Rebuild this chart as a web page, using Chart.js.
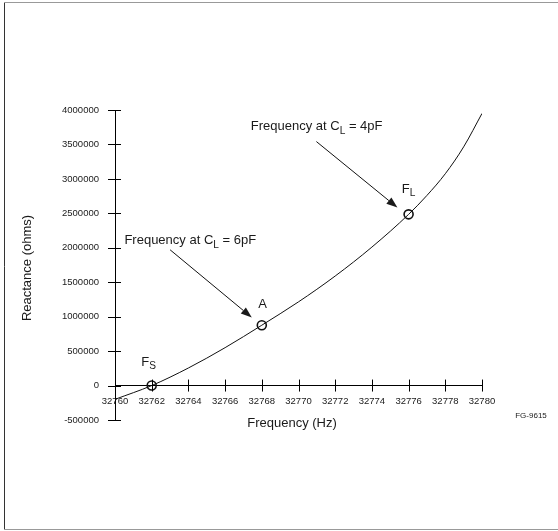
<!DOCTYPE html>
<html>
<head>
<meta charset="utf-8">
<script src="https://cdn.jsdelivr.net/npm/chart.js@4/dist/chart.umd.min.js"></script>
<style>
  body { margin: 0; background: #fff; }
  #wrap { width: 558px; height: 531px; }
</style>
</head>
<body>
<div id="wrap"><canvas id="grafica" width="558" height="531"></canvas></div>
<script>
// Curva de reactancia (Hz, ohms)
const frecuencias = [32760, 32762, 32764, 32766, 32768, 32770, 32772, 32774, 32776, 32777, 32778, 32779, 32780];
const reactancias = [-200000, 0, 255000, 550000, 876000, 1215000, 1590000, 2010000, 2485000, 2760000, 3075000, 3465000, 3950000];

// Puntos marcados
const puntosX = [32762, 32768, 32776];
const puntosY = [0, 876000, 2485000];
const puntosNombre = ["F", "A", "F"];
const puntosSub = ["S", "", "L"];

// Ejes
const xMin = 32760, xMax = 32780, xPaso = 2;
const yMin = -500000, yMax = 4000000, yPaso = 500000;

const tituloX = "Frequency (Hz)";
const tituloY = "Reactance (ohms)";
const notas = [
    { punto: 1, texto: "Frequency at C", sub: "L", resto: " = 6pF" },
    { punto: 2, texto: "Frequency at C", sub: "L", resto: " = 4pF" }
];
const codigoFigura = "FG-9615";

const FUENTE = "'Liberation Sans', Arial, sans-serif";
const TINTA = "#1a1a1a";

// Texto con subindice
function textoSub(ctx, x, y, partes, size) {
    let cx = x;
    partes.forEach(([t, esSub]) => {
        if (!t) return;
        ctx.font = (esSub ? size * 0.78 : size) + "px " + FUENTE;
        ctx.fillText(t, cx, esSub ? y + size * 0.32 : y);
        cx += ctx.measureText(t).width;
    });
}

function flecha(ctx, x1, y1, x2, y2) {
    const ang = Math.atan2(y2 - y1, x2 - x1);
    const largo = 11, ancho = 4;
    ctx.beginPath();
    ctx.moveTo(x1, y1);
    ctx.lineTo(x2 - Math.cos(ang) * largo, y2 - Math.sin(ang) * largo);
    ctx.stroke();
    ctx.beginPath();
    ctx.moveTo(x2, y2);
    ctx.lineTo(x2 - Math.cos(ang) * largo + Math.sin(ang) * ancho, y2 - Math.sin(ang) * largo - Math.cos(ang) * ancho);
    ctx.lineTo(x2 - Math.cos(ang) * largo - Math.sin(ang) * ancho, y2 - Math.sin(ang) * largo + Math.cos(ang) * ancho);
    ctx.closePath();
    ctx.fill();
}

const extras = {
    id: "extras",
    afterDraw(chart) {
        const { ctx, chartArea, scales: { x, y } } = chart;
        const y0 = y.getPixelForValue(0);
        ctx.save();

        // marco
        ctx.lineWidth = 1;
        ctx.strokeStyle = "#333";
        ctx.beginPath(); ctx.moveTo(4.5, 530); ctx.lineTo(4.5, 3); ctx.stroke();
        ctx.strokeStyle = "#999";
        ctx.beginPath(); ctx.moveTo(4, 2.5); ctx.lineTo(558, 2.5); ctx.stroke();
        ctx.beginPath(); ctx.moveTo(4, 529.5); ctx.lineTo(558, 529.5); ctx.stroke();

        // marcas cruzadas de los ejes
        ctx.strokeStyle = "#000";
        x.ticks.forEach(t => {
            const px = Math.round(x.getPixelForValue(t.value)) + 0.5;
            ctx.beginPath(); ctx.moveTo(px, y0 - 6); ctx.lineTo(px, y0 + 6); ctx.stroke();
        });
        y.ticks.forEach(t => {
            const py = Math.round(y.getPixelForValue(t.value)) + 0.5;
            ctx.beginPath(); ctx.moveTo(chartArea.left - 7, py); ctx.lineTo(chartArea.left + 6, py); ctx.stroke();
        });

        ctx.fillStyle = TINTA;
        ctx.textBaseline = "middle";

        // titulos de ejes
        ctx.font = "13px " + FUENTE;
        ctx.textAlign = "center";
        ctx.fillText(tituloX, chartArea.left + 177, chartArea.bottom + 3);
        ctx.save();
        ctx.translate(27, (chartArea.top + chartArea.bottom) / 2 + 3);
        ctx.rotate(-Math.PI / 2);
        ctx.fillText(tituloY, 0, 0);
        ctx.restore();

        ctx.font = "8px " + FUENTE;
        ctx.fillText(codigoFigura, chartArea.right + 49, chartArea.bottom - 4);

        // etiquetas de los puntos
        ctx.textAlign = "left";
        const offs = [[-10.5, -23.4], [-3.5, -21], [-6.8, -25.2]];
        puntosX.forEach((fx, i) => {
            const px = x.getPixelForValue(fx), py = y.getPixelForValue(puntosY[i]);
            textoSub(ctx, px + offs[i][0], py + offs[i][1], [[puntosNombre[i], false], [puntosSub[i], true]], 13);
        });

        // notas con flechas
        ctx.lineWidth = 1;
        ctx.strokeStyle = "#111";
        ctx.fillStyle = TINTA;
        const notaOffs = [
            { tx: -137.4, ty: -84.4, ax: -91.7, ay: -75.4, bx: -10, by: -7.7 },
            { tx: -157.8, ty: -87.5, ax: -92.2, ay: -72.8, bx: -11.2, by: -6.8 }
        ];
        notas.forEach((n, i) => {
            const px = x.getPixelForValue(puntosX[n.punto]);
            const py = y.getPixelForValue(puntosY[n.punto]);
            const o = notaOffs[i];
            textoSub(ctx, px + o.tx, py + o.ty, [[n.texto, false], [n.sub, true], [n.resto, false]], 13);
            flecha(ctx, px + o.ax, py + o.ay, px + o.bx, py + o.by);
        });

        ctx.restore();
    }
};

new Chart(document.getElementById("grafica"), {
    type: "line",
    data: {
        datasets: [
            {
                data: frecuencias.map((f, i) => ({ x: f, y: reactancias[i] })),
                borderColor: "#111",
                borderWidth: 1,
                pointRadius: 0,
                cubicInterpolationMode: "monotone",
                fill: false
            },
            {
                type: "scatter",
                data: puntosX.map((f, i) => ({ x: f, y: puntosY[i] })),
                pointStyle: "circle",
                pointRadius: 4.5,
                pointBorderWidth: 1.6,
                pointBorderColor: "#111",
                pointBackgroundColor: "rgba(0,0,0,0)",
                showLine: false
            }
        ]
    },
    options: {
        responsive: false,
        animation: false,
        layout: { padding: { left: 55, top: 110, right: 76, bottom: 111 } },
        plugins: { legend: { display: false }, tooltip: { enabled: false } },
        scales: {
            x: {
                type: "linear",
                position: { y: 0 },
                min: xMin, max: xMax,
                grid: { display: false, drawTicks: false },
                border: { display: true, color: "#000", width: 1 },
                ticks: {
                    stepSize: xPaso,
                    padding: 10,
                    color: TINTA,
                    maxRotation: 0,
                    autoSkip: false,
                    font: { family: FUENTE, size: 9.5 },
                    callback: v => String(v)
                }
            },
            y: {
                type: "linear",
                min: yMin, max: yMax,
                grid: { display: false, drawTicks: false },
                border: { display: true, color: "#000", width: 1 },
                ticks: {
                    stepSize: yPaso,
                    padding: 16,
                    color: TINTA,
                    font: { family: FUENTE, size: 9.5 },
                    callback: v => String(v)
                },
                afterFit(escala) { escala.width = 60; }
            }
        }
    },
    plugins: [extras]
});
</script>
</body>
</html>
